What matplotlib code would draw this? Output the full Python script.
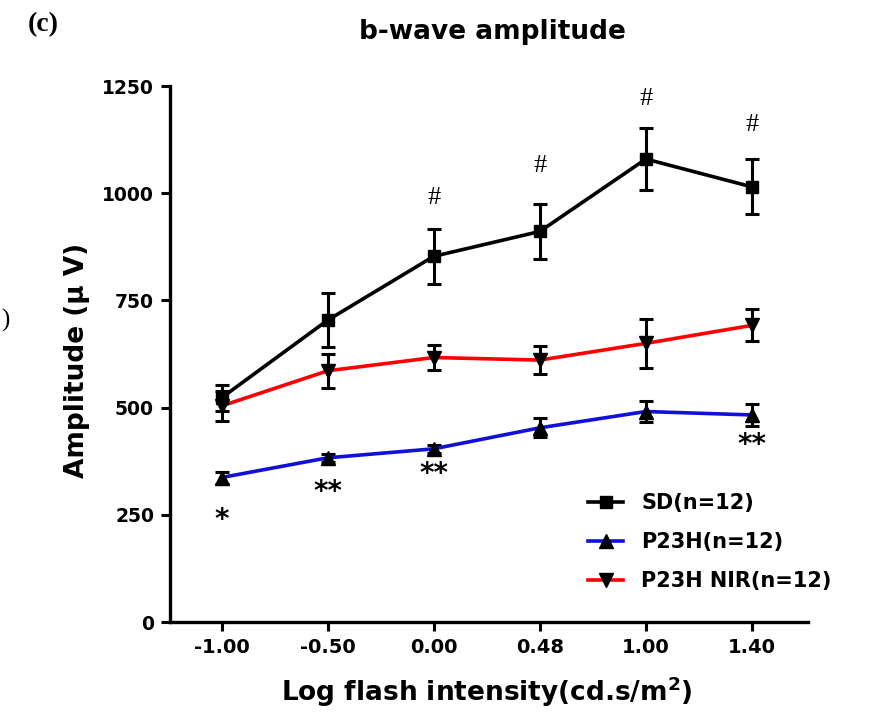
import matplotlib
matplotlib.use("Agg")
import matplotlib.pyplot as plt

# x categories (log flash intensity)
intensity = ["-1.00", "-0.50", "0.00", "0.48", "1.00", "1.40"]

# b-wave amplitude, mean and error (uV)
sd_mean = [523, 704, 853, 911, 1080, 1015]
sd_err = [30, 63, 64, 65, 72, 64]
p23h_mean = [337, 383, 404, 453, 491, 483]
p23h_err = [14, 9, 9, 22, 25, 25]
nir_mean = [504, 586, 617, 611, 650, 692]
nir_err = [36, 40, 30, 32, 57, 37]

# significance marks
hash_idx = [2, 3, 4, 5]
star_idx = [0, 1, 2, 5]
star_txt = ["*", "**", "**", "**"]

fig = plt.figure(figsize=(8.69, 7.18), dpi=100)
ax = fig.add_axes([0.1956, 0.1337, 0.930 - 0.1956, 0.880 - 0.1337])

x = list(range(len(intensity)))

def draw(mean, err, color, marker, ms, z):
    ax.errorbar(x, mean, yerr=err, color=color, lw=2.6, marker=marker, ms=ms,
                mfc="black", mec="black", ecolor="black", elinewidth=2.2,
                capsize=4.8, capthick=2.2, zorder=z)

draw(p23h_mean, p23h_err, "#1010d8", "^", 10, 3)
draw(nir_mean, nir_err, "#ff0000", "v", 10, 4)
draw(sd_mean, sd_err, "black", "s", 9, 5)

# legend handles
h1, = ax.plot([], [], color="black", lw=2.6, marker="s", ms=9, mfc="black", mec="black")
h2, = ax.plot([], [], color="#1010d8", lw=2.6, marker="^", ms=10, mfc="black", mec="black")
h3, = ax.plot([], [], color="#ff0000", lw=2.6, marker="v", ms=10, mfc="black", mec="black")
leg = fig.legend([h1, h2, h3], ["SD(n=12)", "P23H(n=12)", "P23H NIR(n=12)"],
                 loc="center left", bbox_to_anchor=(0.655, 0.245), frameon=False,
                 handlelength=1.7, handletextpad=0.85, labelspacing=0.9,
                 prop={"weight": "bold", "size": 15})

# annotations
hash_off = [22, 27, 21, 25]
for i, off in zip(hash_idx, hash_off):
    ax.annotate("#", (i, sd_mean[i] + sd_err[i]), xytext=(0, off), textcoords="offset points",
                ha="center", va="center", fontsize=19, family="Liberation Serif")
star_off = [-26, -22, -15, -14]
for i, t, off in zip(star_idx, star_txt, star_off):
    ax.annotate(t, (i, p23h_mean[i] - p23h_err[i]), xytext=(0, off), textcoords="offset points",
                ha="center", va="center", fontsize=20, fontweight="bold")

ax.set_xlim(-0.486, 5.53)
ax.set_ylim(0, 1250)
ax.set_xticks(x)
ax.set_xticklabels(intensity)
ax.set_yticks([0, 250, 500, 750, 1000, 1250])
for s in ["top", "right"]:
    ax.spines[s].set_visible(False)
for s in ["left", "bottom"]:
    ax.spines[s].set_linewidth(2.4)
ax.tick_params(axis="both", width=2.2, length=6.5, pad=5)
ax.tick_params(axis="x", labelsize=14)
ax.tick_params(axis="y", labelsize=13.5)
for lab in ax.get_xticklabels() + ax.get_yticklabels():
    lab.set_fontweight("bold")

fig.text(492 / 869, 1 - 32 / 718, "b-wave amplitude", ha="center", va="center",
         fontsize=19, fontweight="bold")
fig.text(487 / 869, 1 - 692 / 718, "Log flash intensity(cd.s/m$^\\mathbf{2}$)", ha="center",
         va="center", fontsize=19, fontweight="bold")
fig.text(77 / 869, 1 - 360 / 718, "Amplitude (\u03bc V)", ha="center", va="center",
         rotation=90, fontsize=19, fontweight="bold")
fig.text(43 / 869, 1 - 25 / 718, "(c)", ha="center", va="center", fontsize=20,
         fontweight="bold", family="Liberation Serif")
fig.text(5 / 869, 1 - 320 / 718, ")", ha="center", va="center", fontsize=18,
         family="Liberation Serif")

fig.savefig("out.png", dpi=100)
